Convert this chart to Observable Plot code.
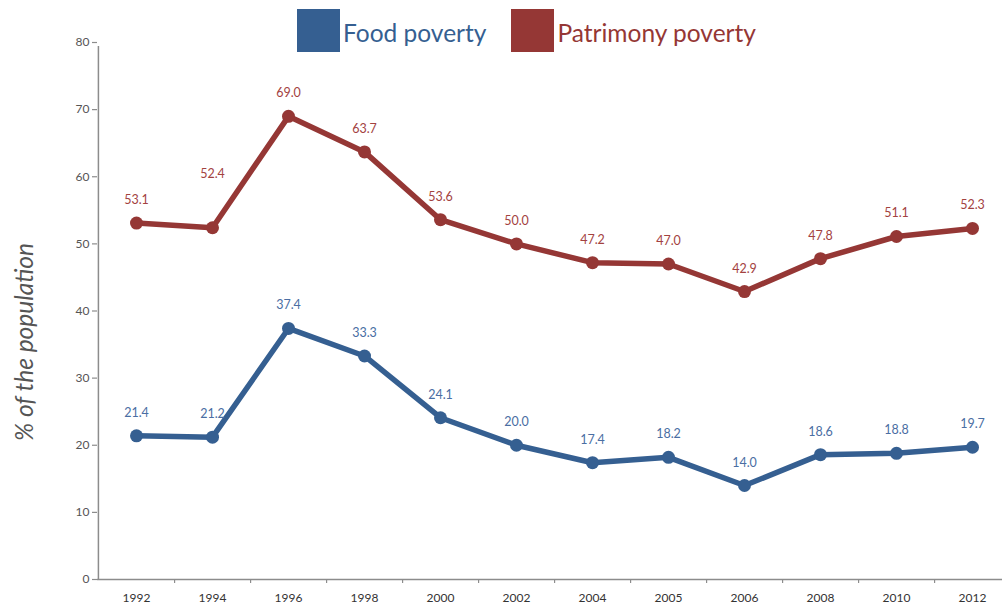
<!DOCTYPE html>
<html>
<head>
<meta charset="utf-8">
<script src="https://cdn.jsdelivr.net/npm/d3@7"></script>
<script src="https://cdn.jsdelivr.net/npm/@observablehq/plot@0.6"></script>
<style>
  html, body { margin: 0; padding: 0; background: #fff; overflow: hidden; }
  #wrap { position: relative; width: 1002px; height: 608px; overflow: hidden; font-family: Lato, "Open Sans", sans-serif; }
  #legend { position: absolute; top: 9px; left: 297px; display: flex; align-items: center; font-size: 24.5px; }
  #legend .sw { width: 43px; height: 43px; display: inline-block; margin-right: 3px; }
  #legend .item { display: flex; align-items: center; margin-right: 25px; }
  #legend .tx { position: relative; top: 2px; }
  #ylabel { position: absolute; left: 23px; top: 342px; transform: translate(-50%, -50%) rotate(-90deg); white-space: nowrap; font-size: 24.5px; font-style: italic; color: #555; }
</style>
</head>
<body>
<div id="wrap">
  <div id="chart"></div>
  <div id="legend"></div>
  <div id="ylabel"></div>
</div>
<script>
const years = ["1992","1994","1996","1998","2000","2002","2004","2005","2006","2008","2010","2012"];
const food = [21.4, 21.2, 37.4, 33.3, 24.1, 20.0, 17.4, 18.2, 14.0, 18.6, 18.8, 19.7];
const patrimony = [53.1, 52.4, 69.0, 63.7, 53.6, 50.0, 47.2, 47.0, 42.9, 47.8, 51.1, 52.3];
const seriesNames = ["Food poverty", "Patrimony poverty"];
const seriesColors = ["#355f91", "#953735"];
const labelColors = ["#4a6ea3", "#a3423f"];
const yTicks = [0, 10, 20, 30, 40, 50, 60, 70, 80];
const yLabel = "% of the population";

const data = years.flatMap((y, i) => [
  {year: y, value: food[i], series: seriesNames[0]},
  {year: y, value: patrimony[i], series: seriesNames[1]}
]);

const W = 1002, H = 608, mL = 97, mR = -9;
const bw = (W - mL - mR) / years.length;

const chart = Plot.plot({
  width: W, height: H,
  marginLeft: mL, marginRight: mR, marginTop: 42, marginBottom: 29,
  style: {fontFamily: "Lato, 'Open Sans', sans-serif", background: "#fff", overflow: "hidden"},
  x: {type: "band", domain: years, padding: 0, axis: null},
  y: {domain: [0, 80], axis: null},
  color: {domain: seriesNames, range: seriesColors},
  marks: [
    Plot.ruleY([0], {stroke: "#8c8c8c", strokeWidth: 1.5}),
    Plot.ruleX([years[0]], {dx: -bw / 2, y1: 0, y2: 80, stroke: "#8c8c8c", strokeWidth: 1.5, insetBottom: -4}),
    Plot.axisY({ticks: yTicks, tickSize: 5, tickPadding: 3, fontSize: 12, color: "#555", stroke: "#8c8c8c", strokeWidth: 1.2, label: null}),
    Plot.axisX({ticks: years, tickSize: 4, tickFormat: () => "", dx: bw / 2, stroke: "#8c8c8c", strokeWidth: 1.2, label: null}),
    Plot.axisX({ticks: years, tickSize: 0, tickPadding: 14, fontSize: 12, color: "#333", label: null}),
    Plot.line(data, {x: "year", y: "value", stroke: "series", strokeWidth: 5.5, z: "series"}),
    Plot.dot(data, {x: "year", y: "value", fill: "series", r: 6.5}),
    Plot.text(data.filter(d => d.series === seriesNames[0]), {x: "year", y: "value", text: d => d.value.toFixed(1), dy: -23, fill: labelColors[0], fontSize: 12.5}),
    Plot.text(data.filter(d => d.series === seriesNames[1] && d.year !== "1994"), {x: "year", y: "value", text: d => d.value.toFixed(1), dy: -23, fill: labelColors[1], fontSize: 12.5}),
    Plot.text(data.filter(d => d.series === seriesNames[1] && d.year === "1994"), {x: "year", y: "value", text: d => d.value.toFixed(1), dy: -54, fill: labelColors[1], fontSize: 12.5})
  ]
});
document.getElementById("chart").appendChild(chart);
document.getElementById("ylabel").textContent = yLabel;

const legend = document.getElementById("legend");
seriesNames.forEach((name, i) => {
  const item = document.createElement("div");
  item.className = "item";
  const sw = document.createElement("span");
  sw.className = "sw";
  sw.style.background = seriesColors[i];
  const tx = document.createElement("span");
  tx.className = "tx";
  tx.textContent = name;
  tx.style.color = seriesColors[i];
  item.appendChild(sw);
  item.appendChild(tx);
  legend.appendChild(item);
});
</script>
</body>
</html>
